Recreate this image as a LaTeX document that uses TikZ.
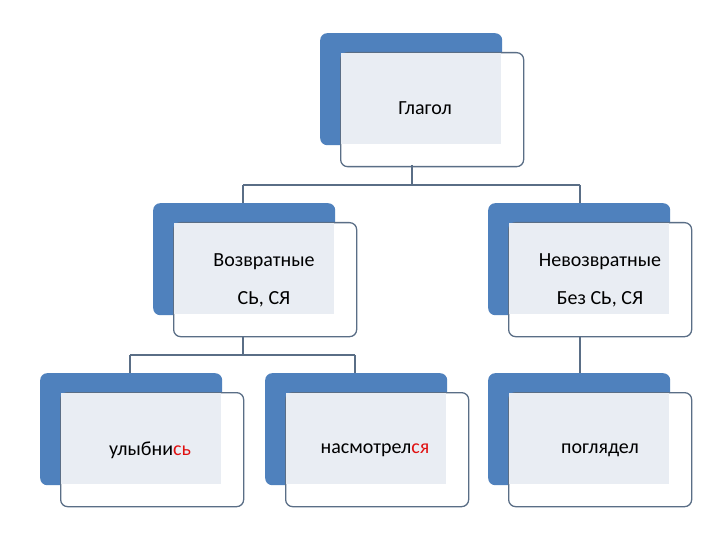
\documentclass[tikz,border=0pt]{standalone}
\usepackage{fontspec}
\setmainfont{Carlito}
\begin{document}
\begin{tikzpicture}[x=1pt,y=-1pt,
  back/.style={draw=none,fill=blueA,rounded corners=7pt,anchor=north west,inner sep=0},
  front/.style={draw=lineC,line width=1.3pt,fill=white,rounded corners=7pt,anchor=north west,inner sep=0},
  lite/.style={fill=liteC,draw=none,inner sep=0,anchor=north west},
  txt/.style={font=\fontsize{20}{24}\selectfont,text=black},
  conn/.style={draw=lineC,line width=1.3pt}]
\definecolor{blueA}{HTML}{4F81BD}
\definecolor{lineC}{HTML}{5A6E86}
\definecolor{liteC}{HTML}{E9EDF3}
\definecolor{redT}{HTML}{E01010}
\useasboundingbox[fill=white] (0,0) rectangle (720,540);
% box macro-like definitions
\foreach \n/\x/\y in {g/320/33, v/153/203, nv/488/203, a/40/373, b/265/373, c/488/373}{
  \node[back,minimum width=182pt,minimum height=112pt] (\n-back) at (\x,\y) {};
  \node[front,minimum width=183pt,minimum height=114pt] (\n) at (\x+20,\y+19) {};
  \fill[liteC] (\x+21,\y+20) rectangle (\x+181,\y+111);
}
\node[txt] (tg) at (425,108) {Глагол};
\node[txt] (tv1) at (264,262) {Возвратные};
\node[txt] (tv2) at (264,299) {СЬ, СЯ};
\node[txt] (tn1) at (600,262) {Невозвратные};
\node[txt] (tn2) at (600,299) {Без СЬ, СЯ};
\node[txt] (ta) at (150,450) {улыбни\textcolor{redT}{сь}};
\node[txt] (tb) at (375,450) {насмотрел\textcolor{redT}{ся}};
\node[txt] (tc) at (600,450) {поглядел};
% connectors
\coordinate (j1) at (412,185);
\coordinate (j2) at (243,355);
\draw[conn] (412,165) -- (j1);
\draw[conn] (243,185) -- (580,185);
\draw[conn] (243,185) -- (v-back.north -| 243,0);
\draw[conn] (580,185) -- (nv-back.north -| 580,0);
\draw[conn] (v.south -| j2) -- (j2);
\draw[conn] (130,355) -- (355,355);
\draw[conn] (130,355) -- (a-back.north -| 130,0);
\draw[conn] (355,355) -- (b-back.north -| 355,0);
\draw[conn] (nv.south -| 580,0) -- (c-back.north -| 580,0);
\end{tikzpicture}
\end{document}
